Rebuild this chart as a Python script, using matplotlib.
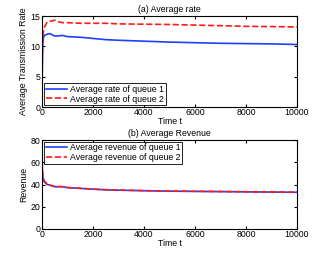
import numpy as np
import matplotlib.pyplot as plt

# (0) Values
t_rate   = [0, 10, 30, 60, 100, 200, 300, 400, 500, 600, 800, 1000, 1500, 2000, 2500, 3000, 4000, 5000, 6000, 7000, 8000, 9000, 10000]
rate_q1  = [0, 6.0, 10.5, 11.5, 11.8, 12.0, 12.1, 11.9, 11.7, 11.7, 11.8, 11.6, 11.5, 11.3, 11.1, 11.0, 10.85, 10.7, 10.6, 10.5, 10.45, 10.4, 10.3]
rate_q2  = [0, 7.0, 11.5, 12.5, 13.2, 14.0, 14.1, 14.2, 14.3, 14.1, 13.9, 13.9, 13.8, 13.8, 13.8, 13.7, 13.65, 13.6, 13.5, 13.4, 13.3, 13.25, 13.2]

t_rev    = [0, 1, 10, 30, 60, 100, 200, 300, 500, 800, 1000, 1500, 2000, 2500, 3000, 4000, 5000, 6000, 7000, 8000, 9000, 10000]
rev_q1   = [0, 77, 55, 47, 44, 42, 40, 39.5, 38, 38, 37.2, 36.5, 35.8, 35.2, 34.9, 34.4, 34.0, 33.8, 33.6, 33.4, 33.2, 33.0]
rev_q2   = [0, 78, 56, 48, 45, 43, 40.5, 39.5, 38.2, 38.1, 37.3, 36.6, 35.9, 35.3, 35.0, 34.5, 34.1, 33.9, 33.7, 33.5, 33.3, 33.1]

plt.rcParams['font.family'] = 'Liberation Sans'
plt.rcParams['font.size'] = 6.3

# (1) Plot
fig = plt.figure(figsize=(3.29, 2.57), dpi=100)

### (a) average rate
ax = fig.add_axes((42/329, 1-107/257, 255/329, 91/257))
ax.plot(t_rate, rate_q1, color='#1f3fff', lw=1.2, label='Average rate of queue 1')
ax.plot(t_rate, rate_q2, color='#ff1a1a', lw=1.2, ls='--', label='Average rate of queue 2')
ax.set_xlim(0, 10000)
ax.set_ylim(0, 15)
ax.set_xticks([0, 2000, 4000, 6000, 8000, 10000])
ax.set_yticks([0, 5, 10, 15])
ax.set_title('(a) Average rate', fontsize=6.3, pad=3)
ax.set_xlabel('Time t', labelpad=0)
ax.set_ylabel('Average Transmission Rate', labelpad=2)
ax.tick_params(direction='in', length=2, pad=1, top=True, right=True)
leg = ax.legend(loc='lower left', fontsize=6.3, fancybox=False, framealpha=1,
                edgecolor='k', borderpad=0.2, handlelength=2.5, labelspacing=0.1,
                borderaxespad=0.2, handletextpad=0.3)
leg.get_frame().set_linewidth(0.6)

### (b) average revenue
ax = fig.add_axes((42/329, 1-229/257, 255/329, 89/257))
ax.plot(t_rev, rev_q1, color='#1f3fff', lw=1.2, label='Average revenue of queue 1')
ax.plot(t_rev, rev_q2, color='#ff1a1a', lw=1.2, ls='--', label='Average revenue of queue 2')
ax.set_xlim(0, 10000)
ax.set_ylim(0, 80)
ax.set_xticks([0, 2000, 4000, 6000, 8000, 10000])
ax.set_yticks([0, 20, 40, 60, 80])
ax.set_title('(b) Average Revenue', fontsize=6.3, pad=3)
ax.set_xlabel('Time t', labelpad=0)
ax.set_ylabel('Revenue', labelpad=2)
ax.tick_params(direction='in', length=2, pad=1, top=True, right=True)
leg = ax.legend(loc='upper left', fontsize=6.3, fancybox=False, framealpha=1,
                edgecolor='k', borderpad=0.2, handlelength=2.5, labelspacing=0.1,
                borderaxespad=0.2, handletextpad=0.3)
leg.get_frame().set_linewidth(0.6)

fig.savefig('out.png', dpi=100)
